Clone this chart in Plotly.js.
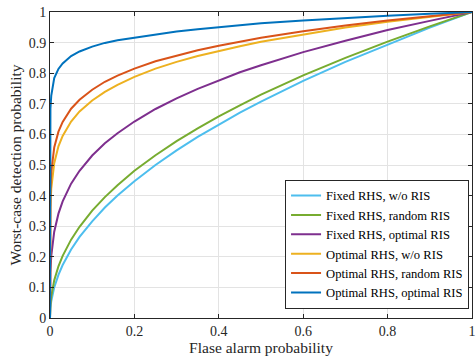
<!DOCTYPE html>
<html>
<head>
<meta charset="utf-8">
<script src="https://cdn.plot.ly/plotly-3.0.1.min.js"></script>
<style>html,body{margin:0;padding:0;background:#fff;}#chart{width:476px;height:362px;}</style>
</head>
<body>
<div id="chart"></div>
<script>
// False alarm probability grid (shared)
var pfa = [0, 0.0002, 0.001, 0.003, 0.006, 0.01, 0.02, 0.03, 0.05, 0.07, 0.1, 0.13, 0.16, 0.2, 0.25, 0.3, 0.35, 0.4, 0.45, 0.5, 0.6, 0.7, 0.8, 0.9, 1];

// Worst-case detection probability per scheme
var fixedNoRIS     = [0, 0.014, 0.032, 0.055, 0.077, 0.100, 0.141, 0.173, 0.224, 0.265, 0.316, 0.361, 0.400, 0.447, 0.500, 0.548, 0.592, 0.632, 0.671, 0.707, 0.775, 0.837, 0.894, 0.949, 1];
var fixedRandomRIS = [0, 0.021, 0.043, 0.071, 0.098, 0.123, 0.169, 0.203, 0.256, 0.298, 0.351, 0.395, 0.434, 0.481, 0.532, 0.578, 0.620, 0.659, 0.695, 0.730, 0.793, 0.850, 0.903, 0.953, 1];
var fixedOptRIS    = [0, 0.096, 0.150, 0.203, 0.245, 0.282, 0.341, 0.381, 0.439, 0.481, 0.531, 0.571, 0.604, 0.642, 0.683, 0.718, 0.749, 0.777, 0.803, 0.826, 0.869, 0.906, 0.941, 0.971, 1];
var optNoRIS       = [0, 0.284, 0.360, 0.423, 0.469, 0.506, 0.561, 0.595, 0.642, 0.675, 0.711, 0.739, 0.762, 0.788, 0.815, 0.837, 0.856, 0.873, 0.888, 0.903, 0.927, 0.949, 0.968, 0.985, 1];
var optRandomRIS   = [0, 0.339, 0.416, 0.478, 0.522, 0.557, 0.609, 0.641, 0.684, 0.713, 0.746, 0.772, 0.792, 0.815, 0.839, 0.858, 0.875, 0.890, 0.904, 0.916, 0.937, 0.956, 0.972, 0.987, 1];
var optOptRIS      = [0, 0.626, 0.684, 0.727, 0.757, 0.784, 0.814, 0.832, 0.856, 0.871, 0.887, 0.899, 0.908, 0.916, 0.927, 0.936, 0.944, 0.951, 0.957, 0.963, 0.972, 0.981, 0.988, 0.994, 1];

var seriesNames = ["Fixed RHS, w/o RIS", "Fixed RHS, random RIS", "Fixed RHS, optimal RIS",
                   "Optimal RHS, w/o RIS", "Optimal RHS, random RIS", "Optimal RHS, optimal RIS"];
var seriesData = [fixedNoRIS, fixedRandomRIS, fixedOptRIS, optNoRIS, optRandomRIS, optOptRIS];
var colors = ["#4DBEEE", "#77AC30", "#7E2F8E", "#EDB120", "#D95319", "#0072BD"];

var xTicks = [0, 0.2, 0.4, 0.6, 0.8, 1];
var yTicks = [0, 0.1, 0.2, 0.3, 0.4, 0.5, 0.6, 0.7, 0.8, 0.9, 1];

var FONT = "Liberation Serif";

var traces = seriesData.map(function (ys, i) {
  return {
    x: pfa, y: ys, type: "scatter", mode: "lines", name: seriesNames[i],
    line: {color: colors[i], width: 2, shape: "linear"}
  };
});

var axisCommon = {
  range: [0, 1], showgrid: true, gridcolor: "#e3e3e3", gridwidth: 1,
  zeroline: false, showline: true, linecolor: "#262626", linewidth: 1, mirror: "ticks",
  ticks: "inside", ticklen: 4, tickcolor: "#262626", tickwidth: 1,
  ticklabeloverflow: "allow",
  tickfont: {family: FONT, size: 14, color: "#262626"}
};

var layout = {
  width: 476, height: 362,
  margin: {l: 50, r: 4, t: 12, b: 44},
  paper_bgcolor: "#ffffff", plot_bgcolor: "#ffffff",
  font: {family: FONT},
  showlegend: true,
  xaxis: Object.assign({}, axisCommon, {
    tickvals: xTicks, ticktext: xTicks.map(String),
    title: {text: "Flase alarm probability", standoff: 3,
            font: {family: FONT, size: 15.5, color: "#262626"}}
  }),
  yaxis: Object.assign({}, axisCommon, {
    tickvals: yTicks, ticktext: yTicks.map(String),
    title: {text: "Worst-case detection probability", standoff: 3,
            font: {family: FONT, size: 15.5, color: "#262626"}}
  }),
  legend: {
    x: 0.993, y: 0.03, xanchor: "right", yanchor: "bottom",
    bgcolor: "#ffffff", bordercolor: "#262626", borderwidth: 1,
    font: {family: FONT, size: 12.6, color: "#000000"},
    tracegroupgap: 0, itemwidth: 30
  }
};

Plotly.newPlot("chart", traces, layout, {displayModeBar: false, staticPlot: true});
</script>
</body>
</html>
